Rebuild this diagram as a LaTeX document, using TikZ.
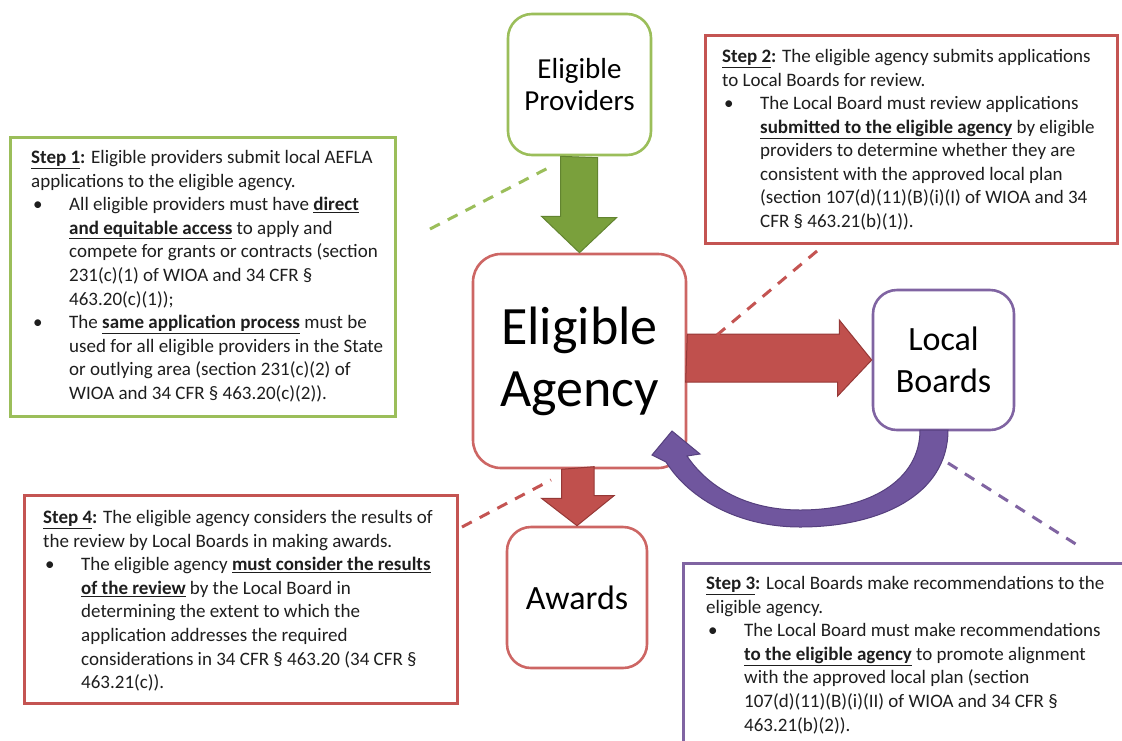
\documentclass[tikz,border=0pt]{standalone}
\usepackage{fontspec}
\setmainfont{Carlito}
\definecolor{grnline}{RGB}{155,190,90}
\definecolor{grnfill}{RGB}{122,160,60}
\definecolor{grndraw}{RGB}{98,132,48}
\definecolor{redline}{RGB}{196,84,82}
\definecolor{redbox}{RGB}{205,102,100}
\definecolor{redfill}{RGB}{192,80,77}
\definecolor{reddraw}{RGB}{150,56,54}
\definecolor{purline}{RGB}{128,100,162}
\definecolor{purfill}{RGB}{112,86,158}
\definecolor{purdraw}{RGB}{86,64,126}
\definecolor{txt}{RGB}{30,30,30}
\newcommand{\bul}{\makebox[38pt][l]{\hspace{2pt}\textbullet}}
\newcommand{\ind}{\hspace*{38pt}}
\newcommand{\ub}[1]{\underline{\textbf{#1}}}
\tikzset{
  mainbox/.style={draw, rounded corners=24pt, line width=2.6pt, fill=white, inner sep=0pt, align=center, text=black},
  stepbox/.style={draw, line width=3pt, inner sep=0pt},
  steptext/.style={anchor=north west, align=left, inner sep=0pt, text=txt, font=\fontsize{19}{23.6}\selectfont},
  link/.style={dashed, dash pattern=on 11pt off 9pt, line width=3pt},
}
\begin{document}
\begin{tikzpicture}[x=1pt,y=-1pt]
\useasboundingbox (0,0) rectangle (1122,740);
\fill[white] (0,0) rectangle (1122,740);

% step boxes
\node[stepbox, draw=grnline, minimum width=385pt, minimum height=279pt] (s1) at (202.5,276.5) {};
\node[stepbox, draw=redline, minimum width=412pt, minimum height=208pt] (s2) at (911,139) {};
\node[stepbox, draw=purline, minimum width=460pt, minimum height=200pt] (s3) at (913,663) {};
\node[stepbox, draw=redline, minimum width=433pt, minimum height=208pt] (s4) at (240.5,599) {};

% main boxes
\node[mainbox, draw=grnline, minimum width=143pt, minimum height=141pt, font=\fontsize{29}{32}\selectfont] (prov) at (579.5,84.5) {Eligible\\Providers};
\node[mainbox, draw=redbox, rounded corners=28pt, minimum width=213pt, minimum height=214pt, font=\fontsize{54}{62}\selectfont] (agency) at (579.5,361) {Eligible\\Agency};
\node[mainbox, draw=purline, minimum width=141pt, minimum height=140pt, font=\fontsize{34}{42}\selectfont] (lb) at (943.5,360) {Local\\Boards};
\node[mainbox, draw=redbox, minimum width=140pt, minimum height=141pt, font=\fontsize{34}{42}\selectfont] (awards) at (577,597.5) {Awards};

% block arrows
\filldraw[fill=grnfill, draw=grndraw, line width=1pt] (prov.south) ++(-19,0) -- ++(0,60) -- ++(-19,0) -- (agency.north) -- ++(37,-35) -- ++(-19,0) -- ++(0,-60) -- cycle;
\filldraw[fill=redfill, draw=reddraw, line width=1pt] (agency.east) ++(0,-27) -- ++(152,0) -- ++(0,-14) -- (lb.west) -- ++(-34,36) -- ++(0,-14) -- ++(-152,0) -- cycle;
\filldraw[fill=redfill, draw=reddraw, line width=1pt] (agency.south) ++(-18,0) -- ++(0,29) -- ++(-20,0) -- (awards.north) -- ++(37,-30) -- ++(-20,0) -- ++(0,-29) -- cycle;
\filldraw[fill=purfill, draw=purdraw, line width=1pt]
  (920,430) -- (948,430) .. controls (948,495) and (880,527) .. (800,527)
  .. controls (740,527) and (690,500) .. (666,462) -- (652,455) -- (672,431) -- (700,454) -- (687,456)
  .. controls (710,490) and (750,510) .. (800,510)
  .. controls (870,510) and (920,480) .. (920,430) -- cycle;

% dashed links
\coordinate (g1) at (430,229); \coordinate (g2) at (550,167);
\draw[link, draw=grnline] (g1) -- (g2);
\coordinate (r1) at (817,251); \coordinate (r2) at (717,335);
\draw[link, draw=redline] (r1) -- (r2);
\coordinate (p1) at (948,463); \coordinate (p2) at (1082,548);
\draw[link, draw=purline] (p1) -- (p2);
\coordinate (q1) at (462,527); \coordinate (q2) at (551,480);
\draw[link, draw=redline] (q1) -- (q2);

% step texts
\node[steptext] (t1) at (31,150) {\ub{Step 1}\textbf{:} Eligible providers submit local AEFLA\\
applications to the eligible agency.\\
\bul All eligible providers must have \ub{direct}\\
\ind\ub{and equitable access} to apply and\\
\ind compete for grants or contracts (section\\
\ind 231(c)(1) of WIOA and 34 CFR §\\
\ind 463.20(c)(1));\\
\bul The \ub{same application process} must be\\
\ind used for all eligible providers in the State\\
\ind or outlying area (section 231(c)(2) of\\
\ind WIOA and 34 CFR § 463.20(c)(2)).};

\node[steptext] (t2) at (722,49) {\ub{Step 2}\textbf{:} The eligible agency submits applications\\
to Local Boards for review.\\
\bul The Local Board must review applications\\
\ind\ub{submitted to the eligible agency} by eligible\\
\ind providers to determine whether they are\\
\ind consistent with the approved local plan\\
\ind (section 107(d)(11)(B)(i)(I) of WIOA and 34\\
\ind CFR § 463.21(b)(1)).};

\node[steptext] (t3) at (706,576) {\ub{Step 3}\textbf{:} Local Boards make recommendations to the\\
eligible agency.\\
\bul The Local Board must make recommendations\\
\ind\ub{to the eligible agency} to promote alignment\\
\ind with the approved local plan (section\\
\ind 107(d)(11)(B)(i)(II) of WIOA and 34 CFR §\\
\ind 463.21(b)(2)).};

\node[steptext] (t4) at (43,510) {\ub{Step 4}\textbf{:} The eligible agency considers the results of\\
the review by Local Boards in making awards.\\
\bul The eligible agency \ub{must consider the results}\\
\ind\ub{of the review} by the Local Board in\\
\ind determining the extent to which the\\
\ind application addresses the required\\
\ind considerations in 34 CFR § 463.20 (34 CFR §\\
\ind 463.21(c)).};
\end{tikzpicture}
\end{document}
